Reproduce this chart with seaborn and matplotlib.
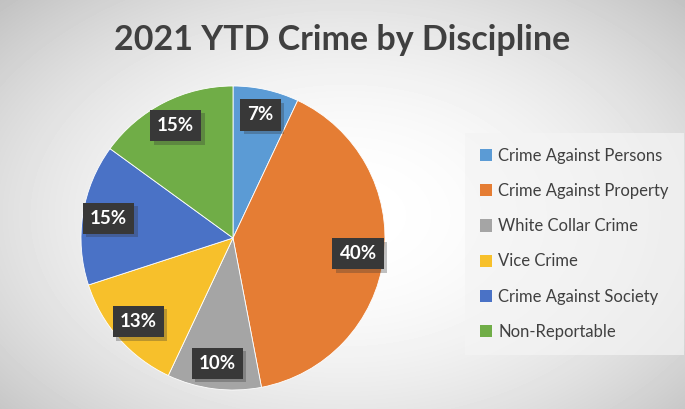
import numpy as np
import matplotlib
matplotlib.use("Agg")
import matplotlib.pyplot as plt
import matplotlib.patheffects as pe
import seaborn as sns

sns.set_theme(style="white")
plt.rcParams["font.family"] = ["Lato", "DejaVu Sans"]

categorias = ["Crime Against Persons", "Crime Against Property", "White Collar Crime",
              "Vice Crime", "Crime Against Society", "Non-Reportable"]
percentuais = [7, 40, 10, 13, 15, 15]
cores = ["#5B9BD5", "#E57D34", "#A5A5A5", "#F7C02B", "#4A72C6", "#70AD47"]
titulo = "2021 YTD Crime by Discipline"

W, H = 685, 409
fig = plt.figure(figsize=(W / 100, H / 100), dpi=100)

# fundo com gradiente radial estilo Excel
fundo = fig.add_axes([0, 0, 1, 1])
yy, xx = np.mgrid[0:H, 0:W]
d2 = ((xx - 345) / 400.0) ** 2 + ((yy - 215) / 260.0) ** 2
img = np.clip(1 - 0.17 * d2, 0, 1)
fundo.imshow(img, cmap="gray", vmin=0, vmax=1, aspect="auto", extent=[0, W, H, 0])
fundo.set_axis_off()

# pizza
cx, cy, r = 233, 238, 152
ax = fig.add_axes([(cx - r) / W, (H - cy - r) / H, 2 * r / W, 2 * r / H])
ax.set_facecolor("none")
wedges, _, autotexts = ax.pie(
    percentuais, colors=sns.color_palette(cores), startangle=90, counterclock=False,
    autopct=lambda p: f"{p:.0f}%", pctdistance=0.83, radius=1,
    wedgeprops=dict(linewidth=0.6, edgecolor="white"),
)
ax.set_xlim(-1, 1)
ax.set_ylim(-1, 1)
ax.set_aspect("equal")
for t in autotexts:
    t.set_color("white")
    t.set_fontsize(13.5)
    t.set_fontweight("bold")
    t.set_bbox(dict(boxstyle="square,pad=0.38", facecolor="#383838", edgecolor="none", linewidth=0))
    t.get_bbox_patch().set_path_effects([pe.SimplePatchShadow(offset=(2.5, -2.5), shadow_rgbFace="#333333", alpha=0.3), pe.Normal()])

fig.text(0.5 * (117 + 567) / W, 1 - 40 / H, titulo, ha="center", va="center",
         fontsize=24.5, fontweight="bold", color="#404040")

leg = fig.legend(wedges, categorias, loc="upper left", bbox_to_anchor=(465 / W, 1 - 133 / H),
                 borderaxespad=0, frameon=True, facecolor="#f4f4f4", edgecolor="none", framealpha=0.7,
                 fontsize=12, labelcolor="#404040", handlelength=0.75, handleheight=0.75,
                 handletextpad=0.35, labelspacing=1.15, borderpad=0.9, fancybox=False)
for h in leg.legend_handles:
    h.set_edgecolor("none")

fig.savefig("out.png", dpi=100)
